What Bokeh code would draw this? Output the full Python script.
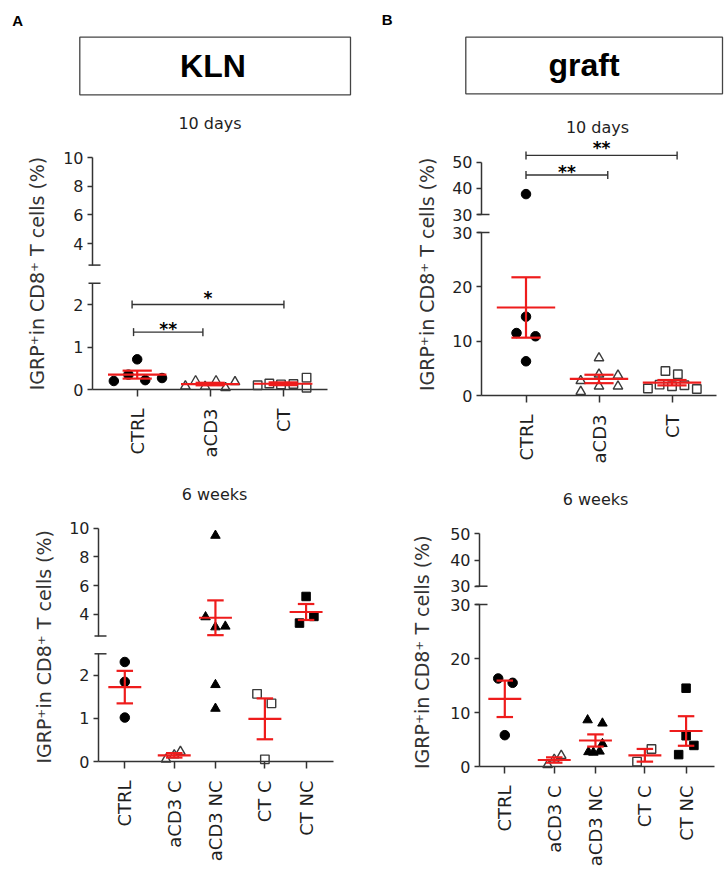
import math
import numpy as np
from bokeh.plotting import figure
from bokeh.layouts import column, row
from bokeh.models import (Range1d, FixedTicker, CustomJSTickFormatter, Label,
                          BoxAnnotation, ColumnDataSource)
from bokeh.core.properties import value
from bokeh.embed import file_html
from bokeh.resources import INLINE

# ---------------- data ----------------
kln10_cats = ["CTRL", "aCD3", "CT"]
kln10_ctrl = [0.20, 0.71, 0.35, 0.22, 0.27]
kln10_acd3 = [0.08, 0.20, 0.07, 0.20, 0.04, 0.18]
kln10_ct = [0.10, 0.14, 0.12, 0.13, 0.28, 0.04]
kln10_sig_x0 = [0.93, 0.95]
kln10_sig_x1 = [3.01, 1.90]
kln10_sig_y = [2.0, 1.35]
kln10_sig_text = ["*", "**"]

graft10_cats = ["CTRL", "aCD3", "CT"]
graft10_ctrl = [37.8, 14.5, 11.5, 10.9, 6.3]
graft10_acd3 = [2.7, 0.7, 6.9, 3.9, 1.7, 3.7, 1.7]
graft10_ct = [1.3, 2.0, 4.5, 1.7, 3.9, 1.9, 1.2]
graft10_sig_x0 = [1.0, 1.0]
graft10_sig_x1 = [3.07, 2.12]
graft10_sig_y = [52.6, 45.1]
graft10_sig_text = ["**", "**"]

wk6_cats = ["CTRL", "aCD3 C", "aCD3 NC", "CT C", "CT NC"]
kln6_ctrl = [2.31, 1.85, 1.02]
kln6_acd3c = [0.05, 0.15, 0.23]
kln6_acd3nc = [9.49, 3.82, 3.12, 3.17, 1.78, 1.23]
kln6_ctc = [1.57, 1.35, 0.05]
kln6_ctnc = [5.25, 3.40, 3.86]

graft6_ctrl = [16.3, 15.5, 5.8]
graft6_acd3c = [0.3, 1.3, 2.0]
graft6_acd3nc = [8.6, 8.0, 2.7, 2.6, 2.8, 4.2]
graft6_ctc = [0.9, 3.25]
graft6_ctnc = [14.5, 5.7, 3.9, 2.2]

# broken-axis segments and ticks
kln_upper_bounds = (2.5, 10)
kln_lower_bounds = (0, 2.5)
kln_ticks_upper = [4, 6, 8, 10]
kln_ticks_lower = [0, 1, 2]
graft_upper_bounds = (30, 50)
graft_lower_bounds = (0, 30)
graft_ticks_upper = [30, 40, 50]
graft_ticks_lower = [0, 10, 20, 30]

YLABEL = "IGRP\u207ain  CD8\u207a T cells (%)"

# ---------------- layout / style constants ----------------
POS10 = [1, 2, 3]
POS6 = [1, 2.2, 3.2, 4.4, 5.4]
# horizontal scatter of the dots inside each group
kln10_dx = [[-0.32, 0.0, -0.12, 0.11, 0.34],
            [-0.34, -0.20, -0.07, 0.08, 0.21, 0.34],
            [-0.35, -0.19, -0.03, 0.14, 0.32, 0.32]]
graft10_dx = [[0.0, 0.0, -0.13, 0.13, 0.0],
              [-0.25, -0.25, 0.0, 0.0, 0.0, 0.26, 0.26],
              [-0.33, -0.17, -0.09, 0.0, 0.08, 0.17, 0.34]]
kln6_dx = [[0, 0, 0], [-0.2, 0.0, 0.15], [0, -0.24, 0, 0.24, 0, 0],
           [-0.19, 0.16, 0], [0, -0.16, 0.19]]
graft6_dx = [[-0.16, 0.19, 0], [-0.16, 0.0, 0.17],
             [-0.19, 0.17, -0.17, -0.05, 0.10, 0.17], [-0.19, 0.16],
             [0.0, 0.0, 0.19, -0.18]]

FONT = "DejaVu Sans"
HFONT = "Liberation Sans"
AX = "#333333"
TXT = "#1f1f1f"
RED = "#ee1c1c"

CF = dict(marker="circle", size=9.5, fill_color="black", line_color="black")
TO = dict(marker="triangle", size=9.5, fill_color=None, line_color="#3a3a3a", line_width=1.4)
SO = dict(marker="square", size=8.5, fill_color=None, line_color="#3a3a3a", line_width=1.4)
TF = dict(marker="triangle", size=9.5, fill_color="black", line_color="black")
SF = dict(marker="square", size=8.5, fill_color="black", line_color="black")

TOTAL_W = 724
HDR_H = 138
R1_TOP, R1_BOT, R2_TOP, R2_BOT = 138, 470, 515, 870
A_L, A_R, B_L, B_R = 56, 363, 440, TOTAL_W
UP_PAD = 8   # room below an upper segment for its lowest tick label


def yrange(anchor, frame):
    v_lo, px_lo, v_hi, px_hi = anchor
    s = (px_lo - px_hi) / (v_hi - v_lo)
    top, bot = frame
    start = v_lo - (bot - px_lo) / s
    end = start + (bot - top) / s
    return start, end, s


def style(p):
    p.outline_line_color = None
    p.background_fill_color = "white"
    p.border_fill_color = "white"
    p.xgrid.visible = False
    p.ygrid.visible = False


def build_panel(cats, pos, groups, dxs, styles, xgeom, up, lo, fig_l, fig_r,
                row_top, row_bot, sig=None):
    fl, fr, ctrl_px, unit_px = xgeom
    xs = pos[0] - (ctrl_px - fl) / unit_px
    xe = xs + (fr - fl) / unit_px
    brk = up["bounds"][0]
    stats = [(float(np.mean(g)), float(np.std(g, ddof=1) / math.sqrt(len(g)))) for g in groups]
    figs = []
    split = up["frame"][1] + UP_PAD
    for which, seg in (("up", up), ("lo", lo)):
        ys, ye, scale = yrange(seg["anchor"], seg["frame"])
        top, bot = seg["frame"]
        if which == "up":
            ftop, fbot = row_top, split
        else:
            ftop, fbot = split, row_bot
        p = figure(width=fig_r - fig_l, height=fbot - ftop,
                   x_range=Range1d(xs, xe), y_range=Range1d(ys, ye),
                   x_axis_location=("below" if which == "lo" else None),
                   output_backend="svg", toolbar_location=None,
                   min_border_left=fl - fig_l, min_border_right=fig_r - fr,
                   min_border_top=top - ftop, min_border_bottom=fbot - bot)
        style(p)
        ya = p.yaxis[0]
        ya.ticker = FixedTicker(ticks=seg["ticks"])
        ya.bounds = seg["bounds"]
        ya.major_tick_out = 5
        ya.major_tick_in = 0
        ya.minor_tick_line_color = None
        ya.axis_line_color = AX
        ya.axis_line_width = 1.5
        ya.major_tick_line_color = AX
        ya.major_tick_line_width = 1.5
        ya.major_label_text_font = FONT
        ya.major_label_text_font_size = "16px"
        ya.major_label_text_color = TXT
        ya.major_label_standoff = 4
        if which == "lo":
            xa = p.xaxis[0]
            xa.ticker = FixedTicker(ticks=pos)
            xa.formatter = CustomJSTickFormatter(args=dict(pos=pos, labels=cats), code="""
                let b = 0;
                for (let i = 0; i < pos.length; i++) {
                  if (Math.abs(pos[i] - tick) < Math.abs(pos[b] - tick)) { b = i; }
                }
                return labels[b];""")
            xa.major_label_orientation = math.pi / 2
            xa.major_tick_out = 7
            xa.major_tick_in = 0
            xa.minor_tick_line_color = None
            xa.axis_line_color = AX
            xa.axis_line_width = 1.5
            xa.major_tick_line_color = AX
            xa.major_tick_line_width = 1.5
            xa.major_label_text_font = FONT
            xa.major_label_text_font_size = "18px"
            xa.major_label_text_color = TXT
            xa.major_label_standoff = 12
        # break mark of the axis
        bval = seg["bounds"][0] if which == "up" else seg["bounds"][1]
        p.segment(x0=[xs - 4 / unit_px], y0=[bval], x1=[xs + 8 / unit_px], y1=[bval],
                  line_color=AX, line_width=1.5, level="overlay")
        in_seg = (lambda v: v > brk) if which == "up" else (lambda v: v <= brk)
        lo_b, hi_b = seg["bounds"]
        # points
        for gi, (vals, dx, st) in enumerate(zip(groups, dxs, styles)):
            xx = [pos[gi] + d for v, d in zip(vals, dx) if in_seg(v)]
            yy = [v for v in vals if in_seg(v)]
            if yy:
                p.scatter(x=xx, y=yy, level="overlay", **st)
        # mean +/- SEM
        x0, y0, x1, y1 = [], [], [], []
        for gi, (m, e) in enumerate(stats):
            c = pos[gi]
            for (a, b, yv) in ((c - 0.4, c + 0.4, m), (c - 0.2, c + 0.2, m + e), (c - 0.2, c + 0.2, m - e)):
                if in_seg(yv):
                    x0.append(a); x1.append(b); y0.append(yv); y1.append(yv)
            v0 = max(m - e, lo_b if which == "up" else ys)
            v1 = min(m + e, hi_b if which == "lo" else ye)
            if v1 > v0:
                x0.append(c); x1.append(c); y0.append(v0); y1.append(v1)
        if x0:
            p.segment(x0=x0, y0=y0, x1=x1, y1=y1, line_color=RED, line_width=2.2, level="overlay")
        # significance bars
        if sig is not None:
            sx0, sx1, sy, stxt, soff = sig
            idx = [i for i in range(len(sy)) if in_seg(sy[i])]
            if idx:
                d = 4 / scale
                bx0, by0, bx1, by1 = [], [], [], []
                for i in idx:
                    bx0 += [sx0[i], sx0[i], sx1[i]]
                    bx1 += [sx1[i], sx0[i], sx1[i]]
                    by0 += [sy[i], sy[i] - d, sy[i] - d]
                    by1 += [sy[i], sy[i] + d, sy[i] + d]
                p.segment(x0=bx0, y0=by0, x1=bx1, y1=by1, line_color=AX, line_width=1.4, level="overlay")
                src = ColumnDataSource(dict(x=[(sx0[i] + sx1[i]) / 2 for i in idx],
                                            y=[sy[i] for i in idx],
                                            t=[stxt[i] for i in idx],
                                            off=[soff[i] for i in idx]))
                p.text(x="x", y="y", text="t", y_offset="off", source=src,
                       text_font=value(FONT), text_font_size="17px", text_font_style="bold",
                       text_align="center", text_baseline="middle", text_color="black",
                       level="overlay")
        figs.append(p)
    return column(*figs, spacing=0)


def anno_fig(w, h):
    p = figure(width=w, height=h, x_range=Range1d(0, w), y_range=Range1d(0, h),
               x_axis_location=None, y_axis_location=None, output_backend="svg",
               toolbar_location=None, min_border_left=0, min_border_right=0,
               min_border_top=0, min_border_bottom=0)
    style(p)
    return p


def add_label(p, left, top, x_img, y_img, text, **kw):
    h = p.height
    p.add_layout(Label(x=x_img - left, y=top + h - y_img, text=text, **kw))


# ---------------- header ----------------
header = anno_fig(TOTAL_W, HDR_H)
for (l, r, t, b) in ((79.3, 350, 36.7, 94.3), (465.3, 722, 36.7, 93.3)):
    header.add_layout(BoxAnnotation(left=l, right=r, top=HDR_H - t, bottom=HDR_H - b,
                                    fill_color=None, line_color="#444444", line_alpha=1.0,
                                    line_width=1.3))
hdr = dict(text_font=HFONT, text_font_style="bold", text_color="black", text_baseline="middle")
add_label(header, 0, 0, 11.7, 20, "A", text_font_size="15px", text_align="left", **hdr)
add_label(header, 0, 0, 381.3, 19, "B", text_font_size="15px", text_align="left", **hdr)
add_label(header, 0, 0, 212.5, 65, "KLN", text_font_size="32px", text_align="center", **hdr)
add_label(header, 0, 0, 583.5, 64, "graft", text_font_size="32px", text_align="center", **hdr)
ttl = dict(text_font=FONT, text_font_size="16px", text_color=TXT, text_align="center",
           text_baseline="middle")
add_label(header, 0, 0, 209.5, 122.5, "10 days", **ttl)
add_label(header, 0, 0, 597, 127.2, "10 days", **ttl)

strip = anno_fig(TOTAL_W, R2_TOP - R1_BOT)
add_label(strip, 0, R1_BOT, 214, 493.5, "6 weeks", **ttl)
add_label(strip, 0, R1_BOT, 595, 499.2, "6 weeks", **ttl)

ylab = dict(text_font=FONT, text_font_size="19px", text_color="#333333", text_align="center",
            text_baseline="middle", angle=math.pi / 2)
labA1 = anno_fig(A_L, R1_BOT - R1_TOP)
add_label(labA1, 0, R1_TOP, 36.9, 270, YLABEL, **ylab)
labB1 = anno_fig(B_L - A_R, R1_BOT - R1_TOP)
add_label(labB1, A_R, R1_TOP, 426.4, 270.8, YLABEL, **ylab)
labA2 = anno_fig(A_L, R2_BOT - R2_TOP)
add_label(labA2, 0, R2_TOP, 43.4, 643.3, YLABEL, **ylab)
labB2 = anno_fig(B_L - A_R, R2_BOT - R2_TOP)
add_label(labB2, A_R, R2_TOP, 421.4, 648.7, YLABEL, **ylab)

# ---------------- panels ----------------
A10 = build_panel(kln10_cats, POS10, [kln10_ctrl, kln10_acd3, kln10_ct], kln10_dx, [CF, TO, SO],
                  (92, 327, 136.7, 73.0),
                  dict(anchor=(2.5, 264.6, 10, 157), frame=(150, 266), bounds=kln_upper_bounds, ticks=kln_ticks_upper),
                  dict(anchor=(0, 389, 2, 304), frame=(280, 389), bounds=kln_lower_bounds, ticks=kln_ticks_lower),
                  A_L, A_R, R1_TOP, R1_BOT,
                  sig=(kln10_sig_x0, kln10_sig_x1, kln10_sig_y, kln10_sig_text, [-7, -3]))
B10 = build_panel(graft10_cats, POS10, [graft10_ctrl, graft10_acd3, graft10_ct], graft10_dx, [CF, TO, SO],
                  (481, 716, 525.5, 73.0),
                  dict(anchor=(30, 214, 50, 161.7), frame=(138, 216), bounds=graft_upper_bounds, ticks=graft_ticks_upper),
                  dict(anchor=(0, 395, 30, 232), frame=(230, 395), bounds=graft_lower_bounds, ticks=graft_ticks_lower),
                  B_L, B_R, R1_TOP, R1_BOT,
                  sig=(graft10_sig_x0, graft10_sig_x1, graft10_sig_y, graft10_sig_text, [-7, -3]))
A6 = build_panel(wk6_cats, POS6, [kln6_ctrl, kln6_acd3c, kln6_acd3nc, kln6_ctc, kln6_ctnc], kln6_dx,
                 [CF, TO, TF, SO, SF],
                 (98, 333, 124.3, 41.2),
                 dict(anchor=(2.5, 635.5, 10, 527.7), frame=(522, 638), bounds=kln_upper_bounds, ticks=kln_ticks_upper),
                 dict(anchor=(0, 761, 2.5, 653.3), frame=(650, 761), bounds=kln_lower_bounds, ticks=kln_ticks_lower),
                 A_L, A_R, R2_TOP, R2_BOT)
B6 = build_panel(wk6_cats, POS6, [graft6_ctrl, graft6_acd3c, graft6_acd3nc, graft6_ctc, graft6_ctnc], graft6_dx,
                 [CF, TO, TF, SO, SF],
                 (479, 714, 504.3, 41.2),
                 dict(anchor=(30, 585.7, 50, 533.3), frame=(528, 588), bounds=graft_upper_bounds, ticks=graft_ticks_upper),
                 dict(anchor=(0, 766, 30, 604), frame=(602, 766), bounds=graft_lower_bounds, ticks=graft_ticks_lower),
                 B_L, B_R, R2_TOP, R2_BOT)

layout = column(header,
                row(labA1, A10, labB1, B10, spacing=0),
                strip,
                row(labA2, A6, labB2, B6, spacing=0),
                spacing=0)

open("out.html", "w").write(file_html(layout, INLINE))
